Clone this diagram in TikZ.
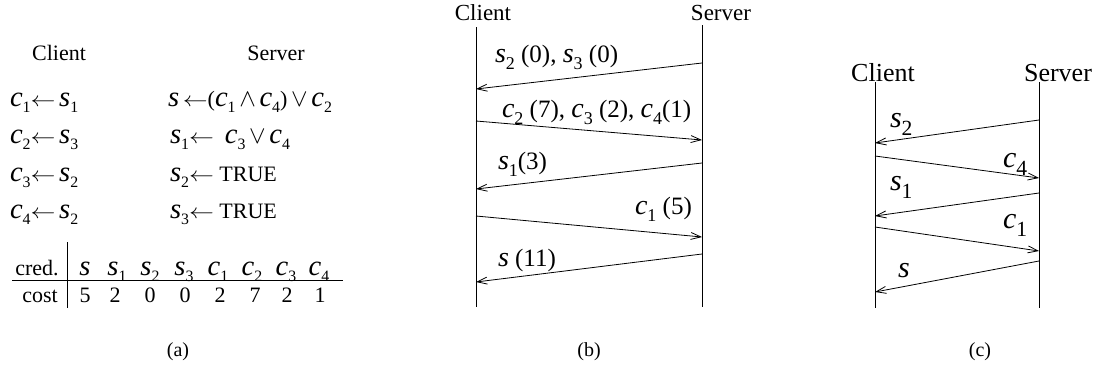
\documentclass[tikz,border=0pt]{standalone}
\usepackage{fontspec}
\setmainfont{Liberation Serif}
\usetikzlibrary{arrows.meta}
\def\ivk{1.3em}
\newcommand\ssub[1]{\raisebox{-0.28em}{\scalebox{0.72}{#1}}}
\newcommand\ivl[1]{{\fontsize{\ivk}{\ivk}\selectfont\itshape #1}}
\newcommand\iv[2]{\ivl{#1}\ssub{#2}}
\newcommand\larr{\scalebox{1.2}[1]{$\leftarrow$}}
\newcommand\myor{{\fontsize{1.2em}{1.2em}\selectfont$\vee$}}
\newcommand\myand{{\fontsize{1.2em}{1.2em}\selectfont$\wedge$}}
\tikzset{
  txt/.style={inner sep=0pt, outer sep=0pt, anchor=base west},
  ctr/.style={inner sep=0pt, outer sep=0pt, anchor=base},
  fa/.style={font=\fontsize{22}{26}\selectfont\def\ivk{1.3em}},
  fb/.style={font=\fontsize{25}{28}\selectfont\def\ivk{1.12em}},
  fbh/.style={font=\fontsize{23}{27}\selectfont},
  fch/.style={font=\fontsize{26}{30}\selectfont},
  fc/.style={font=\fontsize{30}{34}\selectfont\def\ivk{1em}},
  fcap/.style={font=\fontsize{20}{24}\selectfont},
  thin/.style={line width=0.8pt},
  msg/.style={line width=0.8pt, -{Straight Barb[length=10pt,width=7pt,line width=0.8pt]}},
}
\begin{document}
\begin{tikzpicture}[x=1pt,y=-1pt]
\useasboundingbox (0,0) rectangle (1097,383);
% ---------- panel (a)
\node[fa,ctr] (ca) at (59,60) {Client};
\node[fa,ctr] (sa) at (276,60) {Server};
\node[fa,txt] (r1) at (10,106) {\iv{c}{1}\larr\,\iv{s}{1}};
\node[fa,txt] (r2) at (10,143.5) {\iv{c}{2}\larr\,\iv{s}{3}};
\node[fa,txt] (r3) at (10,181) {\iv{c}{3}\larr\,\iv{s}{2}};
\node[fa,txt] (r4) at (10,218) {\iv{c}{4}\larr\,\iv{s}{2}};
\node[fa,txt] (q1) at (168,106) {\ivl{s}\,\larr(\iv{c}{1}\,\myand\,\iv{c}{4})\,\myor\,\iv{c}{2}};
\node[fa,txt] (q2) at (170,143.5) {\iv{s}{1}\larr\ \ \iv{c}{3}\,\myor\,\iv{c}{4}};
\node[fa,txt] (q3) at (170,181) {\iv{s}{2}\larr\ TRUE};
\node[fa,txt] (q4) at (170,218) {\iv{s}{3}\larr\ TRUE};
% table
\node[fa,ctr] (cred) at (37,275) {cred.};
\node[fa,ctr] (cost) at (40,302) {cost};
\foreach \x/\h [count=\i] in {85/\ivl{s}, 117/\iv{s}{1}, 150/\iv{s}{2}, 184/\iv{s}{3}, 218/\iv{c}{1}, 252/\iv{c}{2}, 286/\iv{c}{3}, 319/\iv{c}{4}}{
  \node[fa,ctr] (h\i) at (\x,275) {\h};
}
\foreach \x/\v [count=\i] in {85/5, 115/2, 150/0, 185/0, 220/2, 255/7, 287/2, 320/1}{
  \node[fa,ctr] (v\i) at (\x,302) {\v};
}
\coordinate (tvt) at (67,242); \coordinate (tvb) at (67,308);
\coordinate (thl) at (12,280); \coordinate (thr) at (343,280);
\draw[thin] (tvt) -- (tvb);
\draw[thin] (thl) -- (thr);
% ---------- panel (b)
\node[fbh,ctr] (cb) at (483,20) {Client};
\node[fbh,ctr] (sb) at (721,20) {Server};
\coordinate (cbt) at (476,27); \coordinate (cbb) at (476,307);
\coordinate (sbt) at (702,25); \coordinate (sbb) at (702,307);
\draw[thin] (cbt) -- (cbb);
\draw[thin] (sbt) -- (sbb);
\coordinate (b1s) at (702,63);  \coordinate (b1e) at (476,89);
\coordinate (b2s) at (476,121); \coordinate (b2e) at (702,140);
\coordinate (b3s) at (702,163); \coordinate (b3e) at (476,189);
\coordinate (b4s) at (476,216); \coordinate (b4e) at (702,237);
\coordinate (b5s) at (702,254); \coordinate (b5e) at (476,282);
\foreach \i in {1,...,5}{\draw[msg] (b\i s) -- (b\i e);}
\node[fb,txt] (lb1) at (495,62) {\iv{s}{2} (0), \iv{s}{3} (0)};
\node[fb,txt] (lb2) at (502,117) {\iv{c}{2} (7), \iv{c}{3} (2), \iv{c}{4}(1)};
\node[fb,txt] (lb3) at (498,169) {\iv{s}{1}(3)};
\node[fb,txt] (lb4) at (635,214) {\iv{c}{1} (5)};
\node[fb,txt] (lb5) at (498,266) {\ivl{s} (11)};
% ---------- panel (c)
\node[fch,ctr] (cc) at (883,81) {Client};
\node[fch,ctr] (sc) at (1058,81) {Server};
\coordinate (cct) at (875,82); \coordinate (ccb) at (875,308);
\coordinate (sct) at (1039,82); \coordinate (scb) at (1039,308);
\draw[thin] (cct) -- (ccb);
\draw[thin] (sct) -- (scb);
\coordinate (c1s) at (1039,120); \coordinate (c1e) at (875,143);
\coordinate (c2s) at (875,156);  \coordinate (c2e) at (1039,178);
\coordinate (c3s) at (1039,193); \coordinate (c3e) at (875,216);
\coordinate (c4s) at (875,227);  \coordinate (c4e) at (1039,251);
\coordinate (c5s) at (1039,261); \coordinate (c5e) at (875,292);
\foreach \i in {1,...,5}{\draw[msg] (c\i s) -- (c\i e);}
\node[fc,txt] (lc1) at (890,127) {\iv{s}{2}};
\node[fc,txt] (lc2) at (1003,167) {\iv{c}{4}};
\node[fc,txt] (lc3) at (890,190) {\iv{s}{1}};
\node[fc,txt] (lc4) at (1003,228) {\iv{c}{1}};
\node[fc,txt] (lc5) at (898,277) {\ivl{s}};
% ---------- captions
\node[fcap,anchor=center] (capa) at (178,352) {(a)};
\node[fcap,anchor=center] (capb) at (589,352) {(b)};
\node[fcap,anchor=center] (capc) at (980,352) {(c)};
\end{tikzpicture}
\end{document}
